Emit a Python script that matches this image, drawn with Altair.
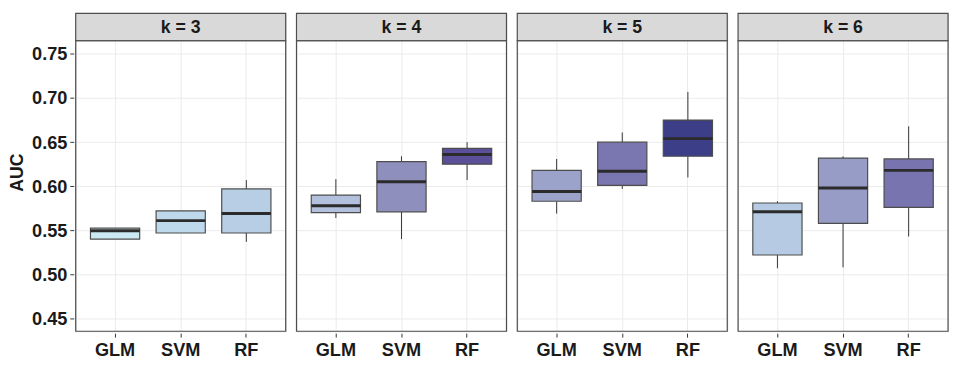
import altair as alt
import pandas as pd

k_labels = ["k = 3", "k = 4", "k = 5", "k = 6"]
models = ["GLM", "SVM", "RF"]

# per (k, model), in order k=3 GLM,SVM,RF ; k=4 ... ; k=6
ymin   = [0.540, 0.547, 0.537, 0.564, 0.540, 0.607, 0.569, 0.597, 0.610, 0.507, 0.508, 0.543]
q1     = [0.540, 0.547, 0.547, 0.570, 0.571, 0.625, 0.583, 0.601, 0.634, 0.522, 0.558, 0.576]
median = [0.5495, 0.561, 0.569, 0.578, 0.605, 0.636, 0.594, 0.617, 0.654, 0.571, 0.598, 0.618]
q3     = [0.5525, 0.572, 0.597, 0.590, 0.628, 0.643, 0.618, 0.650, 0.675, 0.581, 0.632, 0.631]
ymax   = [0.5525, 0.572, 0.607, 0.608, 0.634, 0.650, 0.631, 0.661, 0.707, 0.583, 0.634, 0.668]

rows = []
i = 0
for k in k_labels:
    for m in models:
        rows.append(dict(k=k, model=m, ymin=ymin[i], q1=q1[i], median=median[i],
                         q3=q3[i], ymax=ymax[i]))
        i += 1
df = pd.DataFrame(rows)

W = 214
STRIP = 28
PLOT_H = 296
H = STRIP + PLOT_H
FONT = "Liberation Sans"

y_lo, y_hi = 0.4356, 0.765
px_per_unit = PLOT_H / (y_hi - y_lo)
y_top = y_lo + H / px_per_unit

ysc = alt.Scale(domain=[y_lo, y_top], nice=False, zero=False)
xsc = alt.Scale(paddingInner=0, paddingOuter=0.1)
BOX_W = 0.75 * W / 3.2

x_enc = alt.X("model:N", sort=models, scale=xsc,
              axis=alt.Axis(title=None, labelFontSize=18.5, labelFontWeight="bold",
                            labelColor="#1a1a1a", labelAngle=0, labelPadding=4,
                            tickSize=4, tickColor="#333333", domain=False,
                            grid=True, gridColor="#ebebeb", bandPosition=0.5,
                            labelFont=FONT))
y_axis = alt.Axis(title="AUC", titleFontSize=18, titleFontWeight="bold",
                  titleColor="#1a1a1a", titlePadding=5, titleFont=FONT,
                  labelFontSize=18.5, labelFontWeight="bold", labelColor="#1a1a1a",
                  labelFont=FONT, labelPadding=3,
                  values=[0.45, 0.50, 0.55, 0.60, 0.65, 0.70, 0.75], format=".2f",
                  tickSize=4, tickColor="#333333", domain=False,
                  grid=True, gridColor="#ebebeb")

base = alt.Chart().encode(x=x_enc)

lower = base.mark_rule(color="#333333", strokeWidth=1).encode(
    y=alt.Y("ymin:Q", scale=ysc, axis=y_axis), y2="q1:Q")
upper = base.mark_rule(color="#333333", strokeWidth=1).encode(
    y=alt.Y("q3:Q", scale=ysc), y2="ymax:Q")
box = base.mark_bar(width={"band": 0.75}, stroke="#4d4d4d", strokeWidth=1.2,
                    opacity=1).encode(
    y=alt.Y("q1:Q", scale=ysc), y2="q3:Q",
    fill=alt.Fill("median:Q", legend=None,
                  scale=alt.Scale(domain=[0.549, 0.578, 0.605, 0.636, 0.654],
                                  range=["#cbeaf2", "#b3c0dd", "#8f8fbd", "#5c4f9a", "#3c3f88"])))
med = base.mark_tick(color="#2b2b2b", thickness=3, size=BOX_W, opacity=1).encode(
    y=alt.Y("median:Q", scale=ysc))

strip = alt.Chart().mark_rect(fill="#d9d9d9", stroke="#4d4d4d", strokeWidth=1.2).encode(
    x=alt.value(0), x2=alt.value(W), y=alt.value(0), y2=alt.value(STRIP)
).transform_filter(alt.datum.model == "GLM")
border = alt.Chart().mark_rect(fillOpacity=0, stroke="#4d4d4d", strokeWidth=1.2).encode(
    x=alt.value(0), x2=alt.value(W), y=alt.value(STRIP), y2=alt.value(H)
).transform_filter(alt.datum.model == "GLM")
strip_text = alt.Chart().mark_text(fontSize=18, fontWeight="bold", color="#1a1a1a",
                                   baseline="middle", align="center", font=FONT).encode(
    x=alt.value(W / 2), y=alt.value(STRIP / 2 + 1), text="k:N"
).transform_filter(alt.datum.model == "GLM")

layered = alt.layer(lower, upper, box, med, strip, border, strip_text).properties(width=W, height=H)

chart = layered.facet(
    data=df,
    column=alt.Column("k:N", sort=k_labels,
                      header=alt.Header(labels=False, title=None, labelPadding=0, titlePadding=0)),
    spacing=7,
).properties(
    padding={"left": 0, "top": 0, "right": 0, "bottom": 0}
).configure_view(stroke="transparent", strokeWidth=0).configure(background="white")

chart.save("out.html", embed_options={"renderer": "svg", "actions": False})
